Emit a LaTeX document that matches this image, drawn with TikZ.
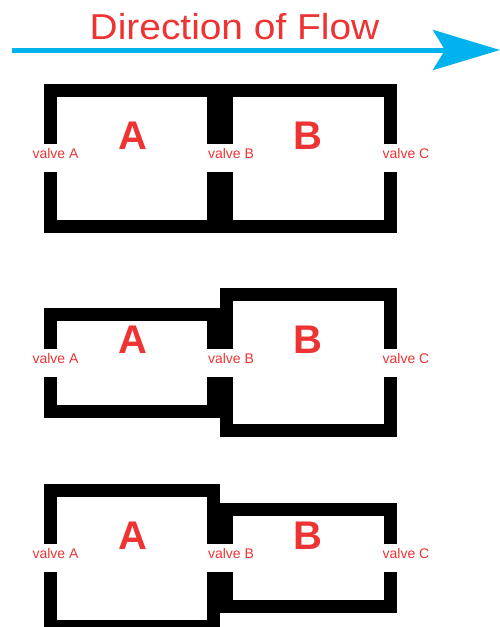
\documentclass[tikz,border=0pt]{standalone}
\usepackage{fontspec}
\setmainfont{Liberation Sans}
\usetikzlibrary{arrows.meta}
\definecolor{flowred}{RGB}{238,51,51}
\definecolor{flowblue}{RGB}{0,178,238}
% #1 left, #2 top, #3 right, #4 bottom (outer edges), #5/#6 valve gap
\newcommand{\chamber}[6]{%
  \draw[wall] (#1+6.5,#5) -- (#1+6.5,#2+6.5) -- (#3-6.5,#2+6.5) -- (#3-6.5,#5);
  \draw[wall] (#1+6.5,#6) -- (#1+6.5,#4-6.5) -- (#3-6.5,#4-6.5) -- (#3-6.5,#6);}
\begin{document}
\begin{tikzpicture}[x=1pt,y=-1pt,
    wall/.style={line width=13pt, line join=miter},
    tank/.style={flowred, font=\fontsize{40}{40}\selectfont\bfseries, anchor=base, inner sep=0pt},
    valve/.style={flowred, font=\fontsize{14}{14}\selectfont, anchor=base, inner sep=0pt}]
    \useasboundingbox (0,0) rectangle (500,627);
    \clip (0,0) rectangle (500,627);
    % flow arrow
    \coordinate (flowstart) at (12,50);
    \coordinate (flowend) at (500,50);
    \draw[flowblue, line width=5pt, -{Stealth[length=67pt,width=40pt,inset=12pt]}] (flowstart) -- (flowend);
    \node[flowred, font=\fontsize{36}{36}\selectfont, anchor=base, inner sep=0pt, xscale=1.08] (title) at (234.5,39.5) {Direction of Flow};
    % equal chambers
    \chamber{44}{84}{220}{233}{144}{172}
    \chamber{220}{84}{397}{233}{144}{172}
    % B larger
    \chamber{44}{308}{220}{418}{349}{377}
    \chamber{220}{288}{397}{437}{349}{377}
    % A larger
    \chamber{44}{484}{220}{633}{544}{572}
    \chamber{220}{503}{397}{613}{544}{572}
    \foreach \n/\y/\v in {1/149/158.5, 2/353/363, 3/549/558.5} {
        \node[tank] (tankA\n) at (133,\y) {A};
        \node[tank] (tankB\n) at (308,\y) {B};
        \node[valve] (valveA\n) at (55.5,\v) {valve A};
        \node[valve] (valveB\n) at (231,\v) {valve B};
        \node[valve] (valveC\n) at (406,\v) {valve C};
    }
\end{tikzpicture}
\end{document}
